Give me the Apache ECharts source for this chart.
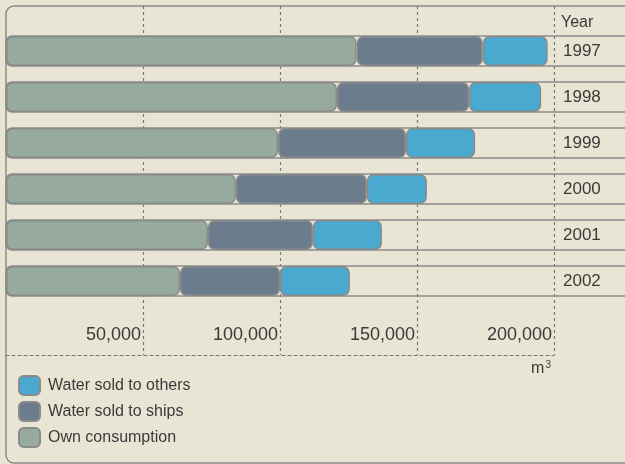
<!DOCTYPE html>
<html>
<head>
<meta charset="utf-8">
<style>
  html, body { margin: 0; padding: 0; background: #e8e5d4; }
  #main { width: 625px; height: 464px; }
</style>
<script src="https://cdn.jsdelivr.net/npm/echarts@6/dist/echarts.min.js"></script>
</head>
<body>
<div id="main"></div>
<script>
// values, m3
var years = ['1997', '1998', '1999', '2000', '2001', '2002'];
var ownConsumption = [128000, 120800, 99300, 83900, 73700, 63500];
var soldToShips = [46000, 48200, 46700, 47800, 38300, 36500];
var soldToOthers = [23700, 26300, 25200, 21900, 25200, 25500];
var xTicks = [50000, 100000, 150000, 200000];

var myChart = echarts.init(document.getElementById('main'));

var BORDER = '#8a8a8a';
var BAR_H = 30;

function segStyle(color) {
    return {
        color: color,
        borderColor: BORDER,
        borderWidth: 1.5,
        borderRadius: 6
    };
}

var option = {
    backgroundColor: '#e8e5d4',
    animation: false,
    textStyle: { fontFamily: 'Liberation Sans', color: '#3a3a3a' },
    grid: [
        // bars
        { left: 6, right: 71, top: 28, bottom: 160 },
        // dashed grid lines + tick labels
        { left: 6, right: 71, top: 6, bottom: 109 }
    ],
    xAxis: [
        { gridIndex: 0, type: 'value', min: 0, max: 200000, show: false },
        {
            gridIndex: 1, type: 'value', min: 0, max: xTicks[xTicks.length - 1],
            interval: xTicks[0],
            axisLine: { show: true, lineStyle: { color: '#777', type: [3, 3], width: 1.2 } },
            axisTick: { show: false },
            splitLine: {
                show: true, showMinLine: false,
                lineStyle: { color: '#777', type: [3, 3], width: 1.2 }
            },
            axisLabel: {
                inside: true, showMinLabel: false, margin: 11,
                align: 'right', verticalAlign: 'bottom', padding: [0, 2, 0, 0],
                fontSize: 18, color: '#3a3a3a',
                formatter: function (v) { return v.toLocaleString('en-US'); }
            }
        }
    ],
    yAxis: [
        {
            gridIndex: 0, type: 'category', data: years, inverse: true,
            position: 'right',
            axisLine: { show: false }, axisTick: { show: false },
            axisLabel: { margin: 9, fontSize: 17, color: '#3a3a3a' }
        },
        { gridIndex: 1, type: 'value', show: false }
    ],
    legend: {
        orient: 'vertical', left: 13, top: 370,
        icon: 'roundRect', itemWidth: 21, itemHeight: 19, itemGap: 5,
        textStyle: { fontSize: 16, color: '#3a3a3a', padding: [0, 0, 0, 3] },
        data: ['Water sold to others', 'Water sold to ships', 'Own consumption']
    },
    graphic: [
        {
            type: 'rect', z: 0, silent: true,
            shape: { x: 6, y: 6, width: 700, height: 457, r: 8 },
            style: { fill: 'none', stroke: BORDER, lineWidth: 1.5 }
        },
        {
            type: 'text', left: 561, top: 15,
            style: { text: 'Year', font: '16px "Liberation Sans"', fill: '#3a3a3a' }
        },
        {
            type: 'text', right: 74, top: 360,
            style: {
                text: '{a|m}{b|3}',
                rich: {
                    a: { fontSize: 16, fontFamily: 'Liberation Sans', fill: '#3a3a3a' },
                    b: { fontSize: 10, fontFamily: 'Liberation Sans', fill: '#3a3a3a', verticalAlign: 'top', padding: [0, 0, 8, 1] }
                }
            }
        }
    ],
    series: [
        {
            type: 'custom', xAxisIndex: 0, yAxisIndex: 0, z: 1, silent: true,
            data: years.map(function (y) { return [0, y]; }),
            encode: { x: 0, y: 1 },
            renderItem: function (params, api) {
                var p = api.coord([0, params.dataIndex]);
                return {
                    type: 'rect',
                    shape: { x: p[0], y: p[1] - BAR_H / 2, width: 700, height: BAR_H, r: 6 },
                    style: { fill: 'none', stroke: BORDER, lineWidth: 1.5 }
                };
            }
        },
        {
            name: 'Own consumption', type: 'bar', stack: 'total', barWidth: BAR_H, z: 3,
            itemStyle: segStyle('#96ab9d'), data: ownConsumption
        },
        {
            name: 'Water sold to ships', type: 'bar', stack: 'total', barWidth: BAR_H, z: 3,
            itemStyle: segStyle('#6b7d8c'), data: soldToShips
        },
        {
            name: 'Water sold to others', type: 'bar', stack: 'total', barWidth: BAR_H, z: 3,
            itemStyle: segStyle('#4aa9cf'), data: soldToOthers
        }
    ]
};
myChart.setOption(option);
</script>
</body>
</html>
